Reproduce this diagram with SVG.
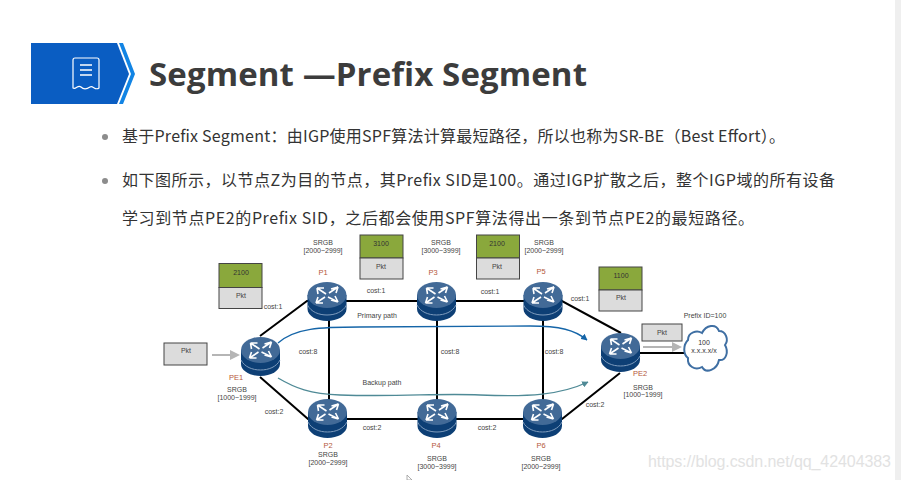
<svg xmlns="http://www.w3.org/2000/svg" width="901" height="480" viewBox="0 0 901 480">
<style>
text{font-family:"Liberation Sans","Noto Sans CJK SC",sans-serif}
.t{font-size:16px;fill:#333;font-family:"Noto Sans CJK SC","Noto Sans",sans-serif}
.s{font-size:7px;fill:#444;text-anchor:middle}
.r{font-size:7.5px;fill:#b5583a;text-anchor:middle}
.l{stroke:#000;stroke-width:2;fill:none}
.g{fill:#8aa83c;stroke:#444;stroke-width:1}
.p{fill:#dcdcdc;stroke:#444;stroke-width:1}
</style>
<defs>
<marker id="ab" viewBox="0 0 10 10" refX="9" refY="5" markerWidth="5" markerHeight="5" orient="auto"><path d="M0 0L10 5L0 10z" fill="#1565a8"/></marker>
<marker id="at" viewBox="0 0 10 10" refX="9" refY="5" markerWidth="5" markerHeight="5" orient="auto"><path d="M0 0L10 5L0 10z" fill="#4f8a96"/></marker>
<marker id="ag" viewBox="0 0 10 10" refX="8" refY="5" markerWidth="5" markerHeight="5" orient="auto"><path d="M0 0L10 5L0 10z" fill="#b5b5b5"/></marker>
<g id="rt">
<path d="M-19.5 -7V7C-19.5 14 -10 19 0 19S19.5 14 19.5 7V-7z" fill="#0d3f75"/>
<path d="M-19.5 3C-16 10 -8 13 0 13S16 10 19.5 3" fill="none" stroke="#7f9cbd" stroke-width="1"/>
<ellipse cx="0" cy="-7" rx="19.5" ry="13" fill="#426a97"/>
<path d="M-10 -14L-3 -14M-10 -14L-9 -8M-10 -14L-1 -8M11 -15L4 -13M11 -15L9 -9M11 -15L2 -9M-11 1L-4 1M-11 1L-9 -5M-11 1L-2 -5M11 0L4 -2M11 0L8 -6M11 0L1 -5" stroke="#fff" stroke-width="1.6" fill="none"/>
</g>
</defs>
<rect width="901" height="480" fill="#fff"/>
<rect x="895" y="0" width="6" height="480" fill="#efefef"/>
<g id="banner">
<path d="M31 43H117L129 74L117 104H31z" fill="#0a5dc2"/>
<path d="M119 43H123L135 74L123 104H119L131 74z" fill="#1284e4"/>
<path d="M73 60Q73 58 75 58H97Q99 58 99 60V88C95 91 93 85 90 87S84 90 81 87S76 90 73 88z" fill="none" stroke="#fff" stroke-width="1.2"/>
<path d="M80 65H92M80 70H92M80 75H92" stroke="#fff" stroke-width="1.3"/>
</g>
<text x="149" y="86" font-size="33" font-weight="700" fill="#3c3c3c" textLength="438" style="font-family:'Open Sans','Liberation Sans',sans-serif">Segment —Prefix Segment</text>
<circle cx="105" cy="137" r="3" fill="#8c8c8c"/>
<circle cx="105" cy="181" r="3" fill="#8c8c8c"/>
<text class="t" x="122" y="142" textLength="663">基于Prefix Segment：由IGP使用SPF算法计算最短路径，所以也称为SR-BE（Best Effort）。</text>
<text class="t" x="122" y="186" textLength="713">如下图所示，以节点Z为目的节点，其Prefix  SID是100。通过IGP扩散之后，整个IGP域的所有设备</text>
<text class="t" x="122" y="224" textLength="632">学习到节点PE2的Prefix SID，之后都会使用SPF算法得出一条到节点PE2的最短路径。</text>
<g id="connectors">
<path class="l" d="M260 336L307 301H562L621 333M260 377L308 419H562L620 373M329 320V400M437 320V400M543 320V400M640 353H695"/>
<path d="M278 343C295 328 320 327 360 327C430 327 480 326 530 326C560 326 575 330 587 340" fill="none" stroke="#1565a8" stroke-width="1.3" marker-end="url(#ab)"/>
<path d="M278 378C295 388 310 394 340 395C400 397 440 393 480 395C530 397 560 395 588 382" fill="none" stroke="#4f8a96" stroke-width="1.3" marker-end="url(#at)"/>
<path d="M212 355H238" stroke="#b5b5b5" stroke-width="2" marker-end="url(#ag)"/>
<path d="M643 347H680" stroke="#b5b5b5" stroke-width="2" marker-end="url(#ag)"/>
</g>
<g id="PE1"><use href="#rt" x="260.5" y="357"/><text class="r" x="236" y="380">PE1</text><text class="s" x="237" y="392">SRGB</text><text class="s" x="237" y="400">[1000~1999]</text></g>
<g id="P1"><use href="#rt" x="327" y="302"/><text class="r" x="323" y="275">P1</text><text class="s" x="323" y="245">SRGB</text><text class="s" x="323" y="253">[2000~2999]</text></g>
<g id="P3"><use href="#rt" x="436.5" y="302"/><text class="r" x="433" y="275">P3</text><text class="s" x="441" y="245">SRGB</text><text class="s" x="441" y="253">[3000~3999]</text></g>
<g id="P5"><use href="#rt" x="543" y="302"/><text class="r" x="541" y="274">P5</text><text class="s" x="544" y="245">SRGB</text><text class="s" x="544" y="253">[2000~2999]</text></g>
<g id="P2"><use href="#rt" x="327.5" y="419"/><text class="r" x="328" y="448">P2</text><text class="s" x="328" y="456.5">SRGB</text><text class="s" x="328" y="464.5">[2000~2999]</text></g>
<g id="P4"><use href="#rt" x="437" y="419"/><text class="r" x="436" y="448">P4</text><text class="s" x="437" y="460.5">SRGB</text><text class="s" x="437" y="468.5">[3000~3999]</text></g>
<g id="P6"><use href="#rt" x="542.5" y="419"/><text class="r" x="541" y="448">P6</text><text class="s" x="541" y="460.5">SRGB</text><text class="s" x="541" y="468.5">[2000~2999]</text></g>
<g id="PE2"><use href="#rt" x="620.5" y="353"/><text class="r" x="640" y="376">PE2</text><text class="s" x="643" y="389.5">SRGB</text><text class="s" x="643" y="397">[1000~1999]</text></g>
<g id="cloud">
<path d="M688 340C688 332 697 330 702 333C706 325 716 323 719 331C726 331 729 340 725 345C729 352 726 361 719 360C717 370 706 374 702 367C695 371 687 366 688 358C683 354 683 345 688 340z" fill="#fff" stroke="#3f6fa3" stroke-width="2"/>
<text class="s" x="704" y="345" style="fill:#333">100</text><text class="s" x="704" y="353" style="fill:#333">x.x.x.x/x</text>
</g>
<g id="pkt-in"><rect class="p" x="164" y="343" width="43" height="22"/><text class="s" x="186" y="353">Pkt</text></g>
<g id="stack-2100a"><rect class="g" x="219" y="263.500" width="43" height="24"/><rect class="p" x="219" y="287.500" width="43" height="21"/><text class="s" x="241" y="274.500" style="fill:#333">2100</text><text class="s" x="241" y="298">Pkt</text></g>
<g id="stack-3100"><rect class="g" x="360" y="235" width="43" height="23"/><rect class="p" x="360" y="258" width="43" height="21"/><text class="s" x="381" y="246" style="fill:#333">3100</text><text class="s" x="381" y="269">Pkt</text></g>
<g id="stack-2100b"><rect class="g" x="476.500" y="235" width="43" height="23"/><rect class="p" x="476.500" y="258" width="43" height="21"/><text class="s" x="497" y="246" style="fill:#333">2100</text><text class="s" x="497" y="269">Pkt</text></g>
<g id="stack-1100"><rect class="g" x="599" y="267" width="43" height="23"/><rect class="p" x="599" y="290" width="43" height="21"/><text class="s" x="621" y="278" style="fill:#333">1100</text><text class="s" x="621" y="300">Pkt</text></g>
<g id="pkt-out"><rect class="p" x="642" y="324" width="40" height="17"/><text class="s" x="662" y="334.500">Pkt</text></g>
<g id="labels">
<text class="s" x="273" y="308.500">cost:1</text><text class="s" x="376" y="292.500">cost:1</text><text class="s" x="490" y="293.500">cost:1</text><text class="s" x="580" y="300.500">cost:1</text>
<text class="s" x="308" y="353.500">cost:8</text><text class="s" x="450" y="353.500">cost:8</text><text class="s" x="554" y="353.500">cost:8</text>
<text class="s" x="274" y="413.500">cost:2</text><text class="s" x="372" y="429.500">cost:2</text><text class="s" x="487" y="429.500">cost:2</text><text class="s" x="595" y="406.500">cost:2</text>
<text class="s" x="377" y="317.500">Primary path</text><text class="s" x="382" y="384.500">Backup path</text><text class="s" x="705" y="317.500">Prefix ID=100</text>
</g>
<text x="648" y="467" font-size="16" fill="#e2e2e2" textLength="243">https://blog.csdn.net/qq_42404383</text>
<path d="M407 475L407 480H412z" fill="#fff" stroke="#999" stroke-width="0.8"/>
</svg>
